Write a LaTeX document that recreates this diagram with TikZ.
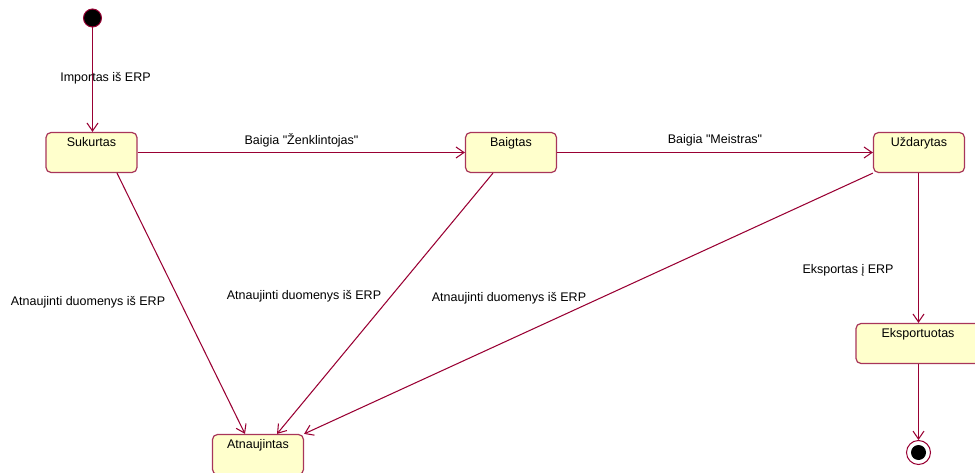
\documentclass[tikz,border=0pt]{standalone}
\usepackage{fontspec}
\newfontfamily\diagfont{Liberation Sans}
\usetikzlibrary{arrows.meta}
\definecolor{edgecol}{HTML}{990033}
\definecolor{boxline}{HTML}{A8355A}
\definecolor{boxfill}{HTML}{FFFFCC}
\tikzset{
  statebox/.style={draw=boxline, fill=boxfill, line width=1.2pt, rounded corners=5pt,
    minimum width=91pt, minimum height=40pt, inner sep=0pt,
    label={[anchor=north, inner sep=0pt, yshift=-5pt, font=\diagfont\fontsize{12.5}{14}\selectfont]north:#1}},
  trans/.style={draw=edgecol, line width=1.05pt, -{Straight Barb[length=8pt,width=11pt,line width=1.05pt]}},
  tlabel/.style={font=\diagfont\fontsize{12.5}{14}\selectfont, inner sep=1pt},
  startdot/.style={circle, draw=edgecol, fill=black, line width=1pt, minimum size=18pt, inner sep=0pt},
  enddot/.style={circle, draw=edgecol, fill=white, line width=1pt, minimum size=24pt, inner sep=0pt},
  endcore/.style={circle, fill=black, minimum size=15pt, inner sep=0pt},
}
\begin{document}
\begin{tikzpicture}[x=1pt, y=-1pt]
  \useasboundingbox (0,0) rectangle (975,473);
  \begin{scope}
  \clip (0,0) rectangle (975,473);
  % states
  \node[startdot] (start) at (92.5,18) {};
  \node[statebox=Sukurtas] (suk) at (91.5,152.5) {};
  \node[statebox=Baigtas] (baig) at (511,152.5) {};
  \node[statebox=Uždarytas] (uzd) at (919,152.5) {};
  \node[statebox=Eksportuotas, minimum width=124pt] (eksp) at (918,343.5) {};
  \node[statebox=Atnaujintas] (atn) at (258,454.5) {};
  \node[enddot] (end) at (918.5,452.5) {};
  \node[endcore] (endc) at (end.center) {};

  % transitions
  \draw[trans] (start) -- (suk.north -| start);
  \draw[trans] (suk.east) -- (baig.west);
  \draw[trans] (baig.east) -- (uzd.west);
  \draw[trans] ([xshift=25.5pt]suk.south) -- ([xshift=-13pt]atn.north);
  \draw[trans] ([xshift=-18pt]baig.south) -- ([xshift=19pt]atn.north);
  \draw[trans] (uzd.south west) -- (atn.north east);
  \draw[trans] ([xshift=-0.5pt]uzd.south) -- (eksp.north -| end);
  \draw[trans] (eksp.south -| end) -- (end.north);
  \end{scope}

  % transition labels
  \node[tlabel] (l1) at (105.5,78) {Importas iš ERP};
  \node[tlabel] (l2) at (301.5,140) {Baigia "Ženklintojas"};
  \node[tlabel] (l3) at (715,140) {Baigia "Meistras"};
  \node[tlabel] (l4) at (88,302) {Atnaujinti duomenys iš ERP};
  \node[tlabel] (l5) at (304,296) {Atnaujinti duomenys iš ERP};
  \node[tlabel] (l6) at (509,298) {Atnaujinti duomenys iš ERP};
  \node[tlabel] (l7) at (848,270) {Eksportas į ERP};
\end{tikzpicture}
\end{document}
